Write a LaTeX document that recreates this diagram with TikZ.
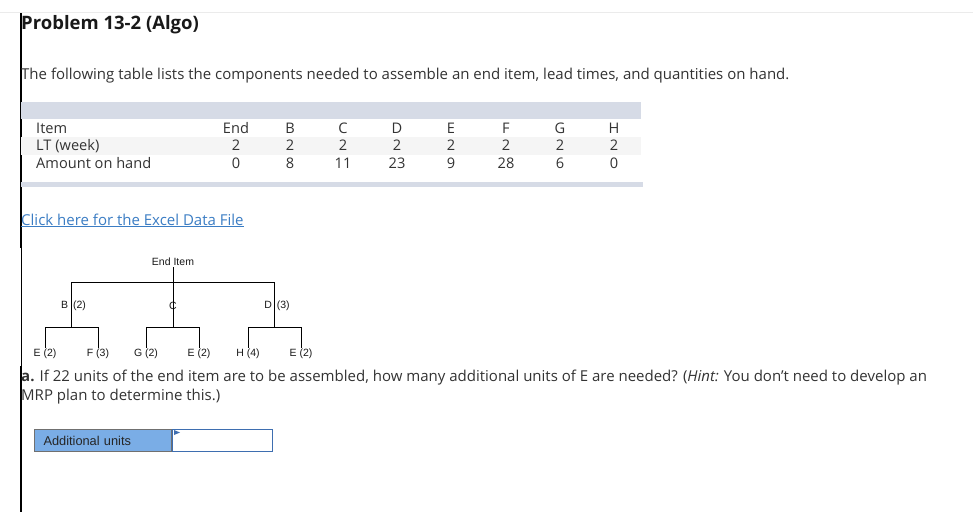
\documentclass[tikz,border=0pt]{standalone}
\usepackage{fontspec}
\setmainfont{Open Sans}
\newfontfamily\arialfont{Liberation Sans}
\definecolor{bandgray}{RGB}{214,219,230}
\definecolor{stripegray}{RGB}{245,245,245}
\definecolor{textgray}{RGB}{51,51,51}
\definecolor{linkblue}{RGB}{59,125,196}
\definecolor{cellblue}{RGB}{122,173,230}
\definecolor{cellgray}{RGB}{112,112,112}
\definecolor{inputblue}{RGB}{62,110,176}
\tikzset{
  treelabel/.style={font=\arialfont\fontsize{10.5}{12}\selectfont, text=black!90, inner sep=1pt},
  cellnum/.style={font=\fontsize{14.6}{16}\selectfont, text=textgray, inner sep=0pt, anchor=base},
  rowhead/.style={cellnum, anchor=base west},
  bodytext/.style={anchor=base west, inner sep=0pt, font=\fontsize{15}{17}\selectfont, text=textgray}
}
\begin{document}
\begin{tikzpicture}[x=1pt,y=-1pt]
    \useasboundingbox (0,0) rectangle (973,512);
    \fill[white] (0,0) rectangle (973,512);
    % page frame
    \draw[black!8]
        (0,12) -- (973,12);
    \draw[line width=2pt]
        (21,13) -- (21,248);
    \draw[line width=0.8pt]
        (21,248) -- (21,366);
    \draw[line width=2pt]
        (21,366) -- (21,512);
    % heading and intro
    \node[anchor=base west, inner sep=0pt, font=\bfseries\fontsize{18.5}{20}\selectfont, text=black!90] (title)
        at (21,29) {Problem 13-2 (Algo)};
    \node[bodytext] (intro)
        at (21,79) {The following table lists the components needed to assemble an end item, lead times, and quantities on hand.};
    % data table
    \fill[bandgray]
        (21,102) rectangle (641,119);
    \fill[stripegray]
        (21,137) rectangle (641,155);
    \fill[bandgray]
        (21,182) rectangle (643,187);
    \node[rowhead] (hitem) at (36,133) {Item};
    \node[rowhead] (hlt) at (36,150) {LT (week)};
    \node[rowhead] (hhand) at (36,168) {Amount on hand};
    \foreach \name/\lt/\hand/\x in {End/2/0/236, B/2/8/290, C/2/11/343, D/2/23/397,
                                   E/2/9/451, F/2/28/506, G/2/6/560, H/2/0/614}{
        \node[cellnum] (item-\name) at (\x,133) {\name};
        \node[cellnum] (lt-\name) at (\x,150) {\lt};
        \node[cellnum] (hand-\name) at (\x,168) {\hand};
    }
    % link
    \node[bodytext, text=linkblue] (link)
        at (21,225) {\underline{Click here for the Excel Data File}};
    % product structure tree
    \node[treelabel] (end) at (173,262) {End Item};
    \node[treelabel] (b) at (73.5,306) {B\hspace{2pt} (2)};
    \node[treelabel] (c) at (173,306) {C};
    \node[treelabel] (d) at (277,306) {D\hspace{2pt} (3)};
    \node[treelabel] (e1) at (45,354) {E (2)};
    \node[treelabel] (f) at (98,354) {F (3)};
    \node[treelabel] (g) at (146,354) {G (2)};
    \node[treelabel] (e2) at (199,354) {E (2)};
    \node[treelabel] (h) at (248,354) {H (4)};
    \node[treelabel] (e3) at (301,354) {E (2)};
    \coordinate (bus) at (0,282);
    \coordinate (sub) at (0,327);
    \coordinate (bj) at (71,306);
    \coordinate (dj) at (274,306);
    \draw
        (end.south) -- (end |- bus)
        (bj |- bus) -- (dj |- bus)
        (bj |- bus) -- (bj |- sub)
        (c |- bus) -- (c |- sub)
        (dj |- bus) -- (dj |- sub)
        (e1 |- sub) -- (f |- sub)
        (g |- sub) -- (e2 |- sub)
        (h |- sub) -- (e3 |- sub);
    \draw
        (e1 |- sub) -- (e1.north)
        (f |- sub) -- (f.north)
        (g |- sub) -- (g.north)
        (e2 |- sub) -- (e2.north)
        (h |- sub) -- (h.north)
        (e3 |- sub) -- (e3.north);
    % question a
    \node[bodytext] (qa1)
        at (21,381) {\textbf{a.} If 22 units of the end item are to be assembled, how many additional units of E are needed? (\textit{Hint:} You don't need to develop an};
    \node[bodytext] (qa2)
        at (21,400) {MRP plan to determine this.)};
    % answer cells
    \node[anchor=north west, draw=cellgray, fill=cellblue, line width=1pt, text width=119pt, inner xsep=9pt,
          minimum height=22pt, align=left, font=\arialfont\fontsize{12.8}{14}\selectfont, text=black!85] (lbl)
        at (34,429) {Additional units};
    \node[anchor=north west, draw=inputblue, fill=white, line width=1.3pt, minimum width=100pt, minimum height=22pt] (answer)
        at (lbl.north east) {};
    \fill[inputblue]
        (answer.north west) ++(2,1) -- ++(6,2.5) -- ++(-6,2.5) -- cycle;
\end{tikzpicture}
\end{document}
